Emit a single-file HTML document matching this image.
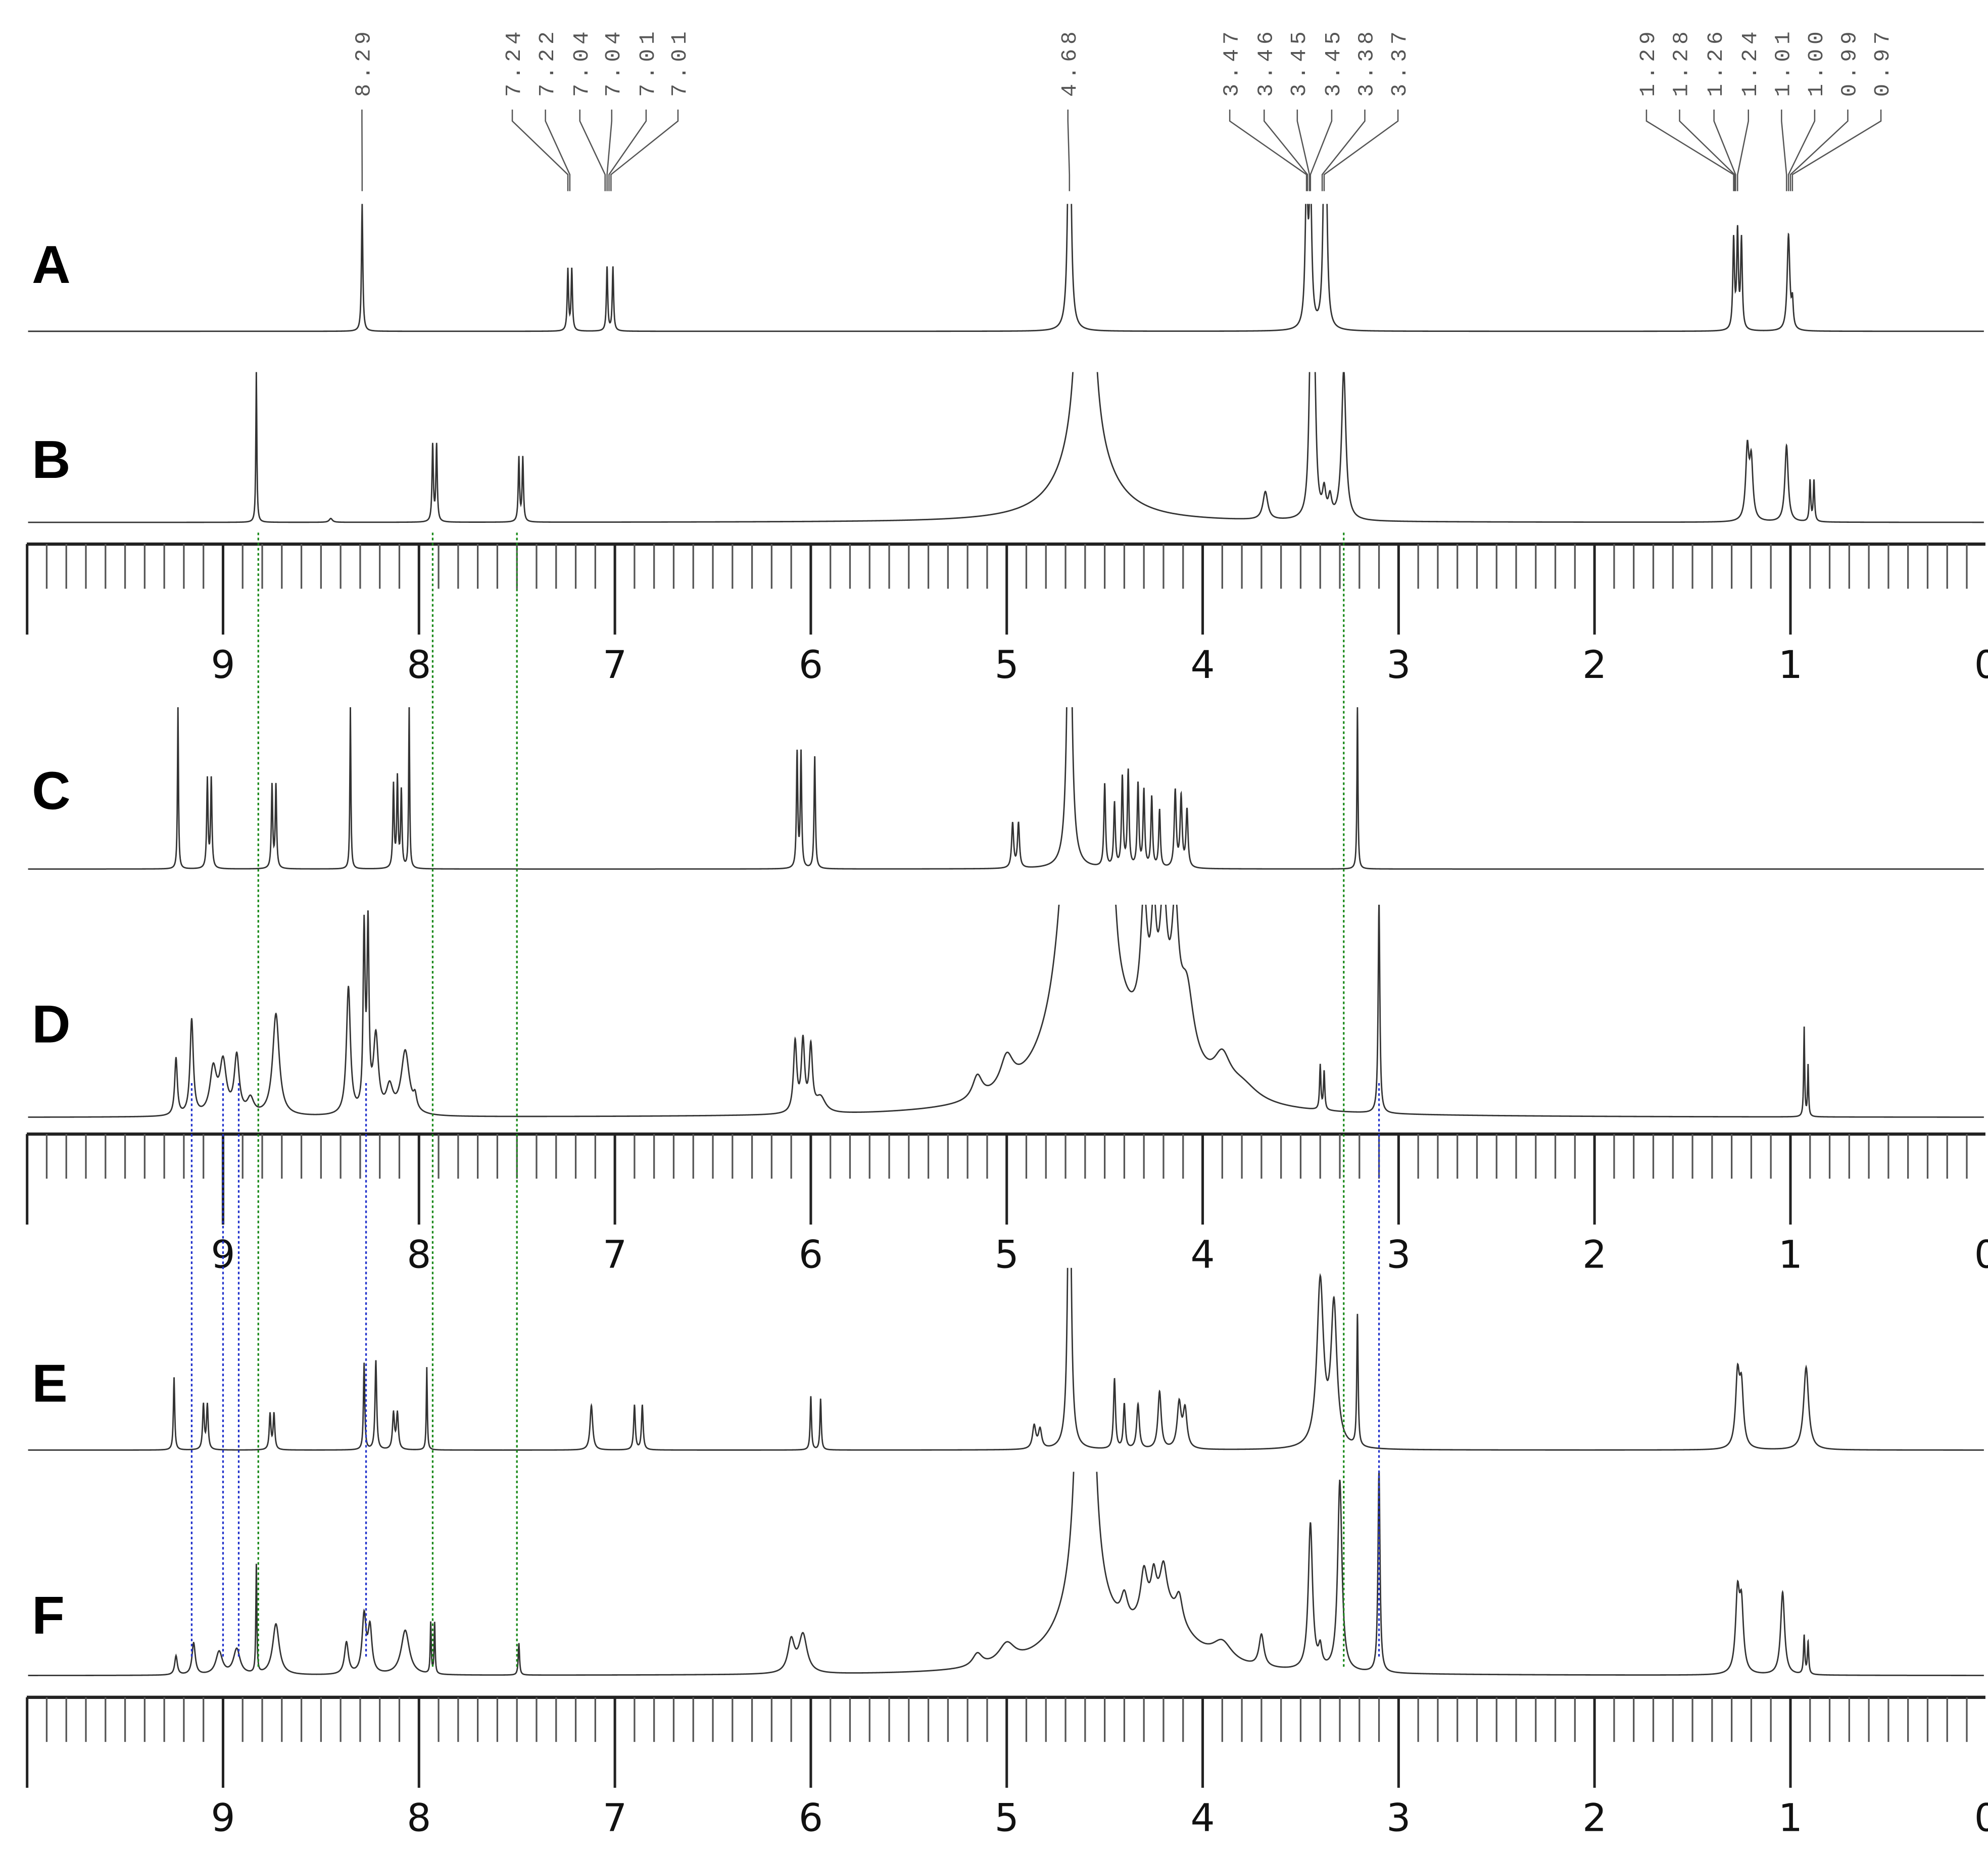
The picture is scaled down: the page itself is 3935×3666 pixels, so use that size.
<!DOCTYPE html>
<html><head><meta charset="utf-8"><style>
html,body{margin:0;padding:0;background:#fff;}
svg{display:block;}
</style></head><body>
<svg id="chart" xmlns="http://www.w3.org/2000/svg" width="3935" height="3666" viewBox="0 0 1560 1453.4">
<rect width="1560" height="1453.4" fill="#fff"/>
<g id="labels"></g>
<g id="spectra"></g>
<g id="axes"></g>
<g id="guides"></g>
</svg>
<script>
// ---- data (ppm, heights in px, half-widths in ppm) ----
const panelNames = ["A","B","C","D","E","F"];
const baselines = [260,410,682,877,1138,1315];
const clipTops = [160,292,555,710,995,1155];
const letterY = [207,360,620,803,1085,1267];

const peaksA = [8.29,7.24,7.22,7.04,7.01,4.68,3.47,3.45,3.38,3.37,1.29,1.27,1.25,1.01,0.99];
const heightsA = [100,48,48,50,50,260,110,110,110,100,70,75,70,75,20];
const widthsA = [0.004,0.004,0.004,0.004,0.004,0.008,0.008,0.008,0.008,0.008,0.005,0.005,0.005,0.008,0.005];

const peaksB = [8.83,8.45,7.93,7.91,7.49,7.47,4.6,4.6,3.68,3.45,3.43,3.38,3.35,3.28,1.22,1.2,1.02,0.9,0.88];
const heightsB = [118,3,60,60,50,50,2000,55,22,120,115,20,15,118,55,45,60,32,32];
const widthsB = [0.003,0.01,0.004,0.004,0.004,0.004,0.012,0.15,0.015,0.01,0.01,0.01,0.01,0.013,0.01,0.01,0.01,0.004,0.004];

const peaksC = [9.23,9.08,9.06,8.75,8.73,8.35,8.13,8.11,8.09,8.05,6.07,6.05,5.98,4.97,4.94,4.68,4.5,4.45,4.41,4.38,4.33,4.3,4.26,4.22,4.14,4.11,4.08,3.21];
const heightsC = [127,70,70,65,65,127,65,70,60,127,90,90,88,35,35,300,65,50,70,75,65,60,55,45,60,55,45,127];
const widthsC = [0.003,0.004,0.004,0.004,0.004,0.003,0.004,0.004,0.004,0.003,0.004,0.004,0.004,0.006,0.006,0.012,0.005,0.005,0.005,0.005,0.005,0.005,0.005,0.005,0.006,0.006,0.006,0.003];

const peaksD = [9.24,9.16,9.05,9.0,8.93,8.86,8.73,8.36,8.28,8.26,8.22,8.15,8.07,8.02,6.08,6.04,6.0,5.95,5.15,5.0,4.6,4.6,4.45,4.3,4.25,4.2,4.14,4.08,4.2,3.9,3.8,3.4,3.38,3.1,0.93,0.91];
const heightsD = [45,75,35,40,45,12,80,100,140,140,60,20,50,10,55,55,50,12,18,25,2850,35,30,90,70,85,85,50,55,25,12,35,30,167,70,40];
const widthsD = [0.008,0.01,0.02,0.02,0.015,0.02,0.02,0.012,0.006,0.006,0.015,0.02,0.025,0.01,0.01,0.01,0.01,0.03,0.03,0.04,0.03,0.2,0.015,0.02,0.015,0.02,0.02,0.04,0.15,0.05,0.1,0.004,0.004,0.005,0.003,0.003];

const peaksE = [9.25,9.1,9.08,8.76,8.74,8.28,8.22,8.13,8.11,7.96,7.12,6.9,6.86,6.0,5.95,4.86,4.83,4.68,4.45,4.4,4.33,4.22,4.12,4.09,3.4,3.33,3.21,1.27,1.25,0.92];
const heightsE = [57,35,35,28,28,68,70,28,28,65,35,35,35,42,40,18,15,300,55,35,35,45,35,30,130,110,103,55,45,65];
const widthsE = [0.004,0.005,0.005,0.005,0.005,0.004,0.005,0.006,0.006,0.003,0.008,0.005,0.005,0.004,0.004,0.01,0.01,0.009,0.006,0.006,0.008,0.01,0.012,0.012,0.02,0.018,0.004,0.012,0.012,0.015];

const peaksF = [9.24,9.15,9.02,8.93,8.83,8.73,8.37,8.28,8.25,8.07,7.94,7.92,7.49,6.1,6.04,5.15,5.0,4.6,4.6,4.4,4.3,4.25,4.2,4.12,4.2,3.9,3.7,3.45,3.4,3.3,3.1,1.27,1.25,1.04,0.93,0.91];
const heightsF = [15,25,18,20,85,40,25,45,35,35,40,40,25,25,30,10,15,2200,40,20,35,25,30,20,45,15,25,115,15,150,160,60,50,65,30,25];
const widthsF = [0.008,0.01,0.02,0.02,0.003,0.02,0.012,0.012,0.012,0.025,0.003,0.003,0.004,0.02,0.025,0.03,0.05,0.014,0.18,0.02,0.02,0.015,0.02,0.02,0.15,0.06,0.015,0.013,0.01,0.013,0.006,0.012,0.012,0.012,0.004,0.004];

const peakSets = [[peaksA,heightsA,widthsA],[peaksB,heightsB,widthsB],[peaksC,heightsC,widthsC],[peaksD,heightsD,widthsD],[peaksE,heightsE,widthsE],[peaksF,heightsF,widthsF]];

const axisTops = [427,890,1332];
const axisTickLabels = ["9","8","7","6","5","4","3","2","1","0"];
const axisTickValues = [9,8,7,6,5,4,3,2,1,0];

const annotGroups = [
  {labels:["8.29"], pos:[8.29]},
  {labels:["7.24","7.22","7.04","7.04","7.01","7.01"], pos:[7.24,7.23,7.05,7.04,7.03,7.02]},
  {labels:["4.68"], pos:[4.68]},
  {labels:["3.47","3.46","3.45","3.45","3.38","3.37"], pos:[3.47,3.465,3.455,3.45,3.39,3.38]},
  {labels:["1.29","1.28","1.26","1.24","1.01","1.00","0.99","0.97"], pos:[1.29,1.285,1.28,1.27,1.02,1.01,1.0,0.99]}
];
const annotStartX = [[284],[402,428,455,480,507,532],[838],[965,992,1018,1045,1071,1097],[1292,1318,1345,1372,1398,1424,1450,1476]];

const greenGuides = [8.82,7.93,7.5,3.28];
const blueGuides = [9.16,9.0,8.92,8.27,3.1];

// ---- scales ----
const X0 = 175, PX = 153.75;
function xs(ppm){ return X0 + (9-ppm)*PX; }
const NS = "http://www.w3.org/2000/svg";
function mk(tag, attrs, parent){ const e=document.createElementNS(NS,tag); for(const k in attrs) e.setAttribute(k,attrs[k]); parent.appendChild(e); return e; }
const svg = document.getElementById('chart');
const gS = document.getElementById('spectra'), gA=document.getElementById('axes'), gL=document.getElementById('labels'), gG=document.getElementById('guides');
const defs = mk('defs',{},svg);

peakSets.forEach((set,i)=>{
  const [p,h,w] = set;
  const cp = mk('clipPath',{id:'clip'+i},defs);
  mk('rect',{x:20,y:clipTops[i],width:1540,height:baselines[i]-clipTops[i]+10},cp);
  const xsList=[];
  for(let x=22;x<=1557;x+=0.3) xsList.push(x);
  p.forEach(v=>{xsList.push(xs(v));});
  xsList.sort((a,b)=>a-b);
  let d='';
  xsList.forEach((x,k)=>{
    const ppm = 9-(x-X0)/PX;
    let y=0;
    for(let j=0;j<p.length;j++){ const dd=ppm-p[j]; y+=h[j]*w[j]*w[j]/(w[j]*w[j]+dd*dd); }
    d += (k?'L':'M')+x.toFixed(2)+' '+(baselines[i]-y).toFixed(2);
  });
  const path = mk('path',{d:d,fill:'none',stroke:'#333',"stroke-width":1.1,"clip-path":'url(#clip'+i+')'},gS);
  
  
  const t = mk('text',{x:25,y:letterY[i]+15,"font-family":"Liberation Sans, sans-serif","font-weight":"bold","font-size":42,fill:'#000'},gL);
  t.textContent = panelNames[i];
  
  
});

axisTops.forEach((top,a)=>{
  const g = mk('g',{},gA);
  
  
  mk('line',{x1:21,x2:1558,y1:top,y2:top,stroke:'#222',"stroke-width":2.5},g);
  for(let k=0;k<=100;k++){
    const ppm=10-k*0.1, x=xs(ppm);
    if(x>1558) break;
    const major = k%10===0;
    mk('line',{x1:x,x2:x,y1:top,y2:top+(major?71:35),stroke:major?'#222':'#555',"stroke-width":major?2:1.3},g);
  }
  axisTickValues.forEach((v,j)=>{
    const t = mk('text',{x:xs(v),y:top+105,"text-anchor":"middle","font-family":"DejaVu Sans, sans-serif","font-size":30,fill:'#111'},g);
    t.textContent = axisTickLabels[j];
    
    
  });
});

annotGroups.forEach((grp,gi)=>{
  grp.labels.forEach((lab,j)=>{
    const sx = annotStartX[gi][j], px = xs(grp.pos[j]);
    const t = mk('text',{x:0,y:0,transform:`translate(${sx+6},76) rotate(-90)`,"font-family":"Liberation Mono, monospace","font-size":17,fill:'#555',"letter-spacing":"3.5"},gL);
    t.textContent = lab;
    
    
    mk('path',{d:`M${sx} 86 L${sx} 95 L${px} 137 L${px} 150`,fill:'none',stroke:'#555',"stroke-width":1},gL);
  });
});

greenGuides.forEach(v=>{
  const l = mk('line',{x1:xs(v),x2:xs(v),y1:418,y2:1310,stroke:'#1a8a1a',"stroke-width":1.3,"stroke-dasharray":"2 2"},gG);
  
  
});
blueGuides.forEach(v=>{
  const l = mk('line',{x1:xs(v),x2:xs(v),y1:850,y2:1300,stroke:'#2233cc',"stroke-width":1.3,"stroke-dasharray":"2 2"},gG);
  
  
});
</script>
</body></html>
